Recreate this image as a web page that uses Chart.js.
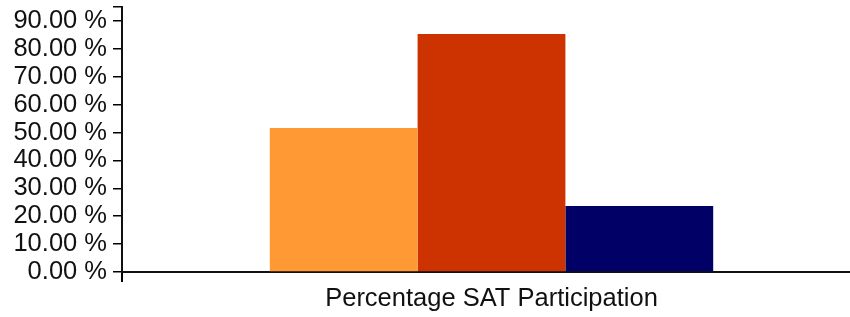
<!DOCTYPE html>
<html>
<head>
<meta charset="utf-8">
<script src="https://cdn.jsdelivr.net/npm/chart.js@4.4.1/dist/chart.umd.min.js"></script>
<style>
  html, body { margin: 0; padding: 0; background: #fff; overflow: hidden; }
  #wrap { width: 862px; height: 317px; }
</style>
</head>
<body>
<div id="wrap"><canvas id="satChart" width="862" height="317"></canvas></div>
<script>
// chart data
const categories = ["Percentage SAT Participation"];
const seriesNames = ["Series 1", "Series 2", "Series 3"];
const seriesValues = [51.6, 85.3, 23.7];
const seriesColors = ["#FF9933", "#CC3300", "#000066"];
const yTicks = [0, 10, 20, 30, 40, 50, 60, 70, 80, 90];
const yMax = 95;

const labelFont = { family: "Liberation Sans, Arial", size: 25.5 };

const datasets = seriesNames.map((name, i) => ({
  label: name,
  data: [seriesValues[i]],
  backgroundColor: seriesColors[i],
  borderWidth: 0,
  barPercentage: 1,
  categoryPercentage: 0.6,
}));

const ctx = document.getElementById("satChart").getContext("2d");
const satChart = new Chart(ctx, {
  type: "bar",
  data: { labels: categories, datasets: datasets },
  options: {
    responsive: false,
    animation: false,
    devicePixelRatio: 1,
    layout: { padding: { top: 7, left: 0, right: 1, bottom: 0 } },
    plugins: { legend: { display: false }, tooltip: { enabled: false } },
    scales: {
      x: {
        offset: true,
        grid: { drawOnChartArea: false, tickLength: 10, color: "#000", lineWidth: 2 },
        border: { display: true, color: "#111", width: 2 },
        ticks: { color: "#111", font: labelFont, padding: 2 },
        afterFit: (scale) => {
          scale.height = 45;
          scale.paddingLeft = 0;
          scale.paddingRight = 0;
        },
      },
      y: {
        min: 0,
        max: yMax,
        grid: { drawOnChartArea: false, tickLength: 9, color: "#000", lineWidth: 1.5 },
        border: { display: true, color: "#111", width: 2 },
        afterBuildTicks: (scale) => {
          scale.ticks = yTicks.concat([yMax]).map((v) => ({ value: v }));
        },
        ticks: {
          autoSkip: false,
          color: "#111",
          padding: 6,
          font: labelFont,
          callback: (v) => (yTicks.includes(v) ? v.toFixed(2) + " %" : ""),
        },
        afterFit: (scale) => {
          scale.width = 122;
          scale.paddingTop = 0;
          scale.paddingBottom = 0;
        },
      },
    },
  },
});
</script>
</body>
</html>
